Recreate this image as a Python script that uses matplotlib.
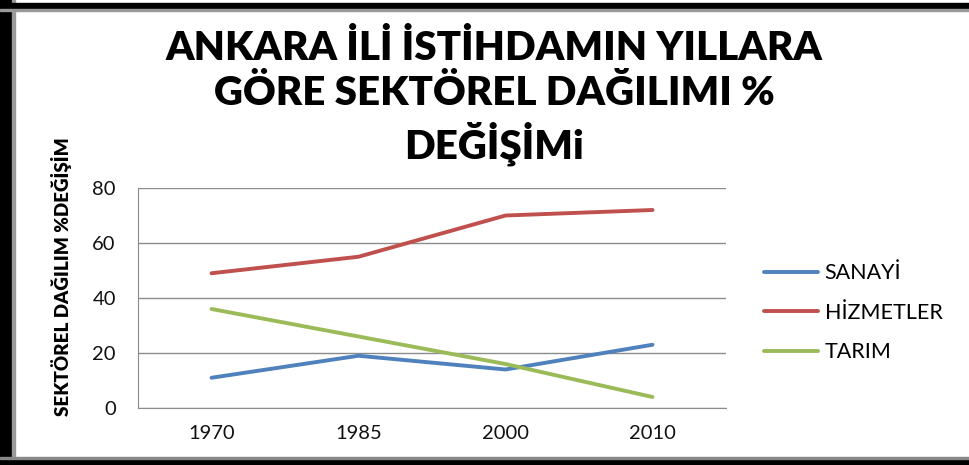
import matplotlib
matplotlib.use("Agg")
import matplotlib.pyplot as plt
from matplotlib.patches import Rectangle

years = ["1970", "1985", "2000", "2010"]
sanayi = [11, 19, 14, 23]
hizmetler = [49, 55, 70, 72]
tarim = [36, 26, 16, 4]
series_names = ["SANAYİ", "HİZMETLER", "TARIM"]
yticks = [0, 20, 40, 60, 80]

plt.rcParams['font.family'] = ['Lato', 'DejaVu Sans']

fig = plt.figure(figsize=(9.69, 4.65), dpi=100)
ax = fig.add_axes([138/969, 57/465, 588/969, 220/465])

x = range(len(years))
colors = ["#4F81BD", "#C0504D", "#9BBB59"]
for vals, name, c in zip([sanayi, hizmetler, tarim], series_names, colors):
    ax.plot(x, vals, color=c, lw=2.8, label=name, solid_capstyle='round')

ax.set_xlim(-0.5, len(years) - 0.5)
ax.set_ylim(0, 80)
ax.set_yticks(yticks)
ax.set_xticks(list(x))
ax.set_xticklabels(years)
ax.yaxis.grid(True, color="#8c8c8c", lw=1)
ax.set_axisbelow(True)
for s in ["top", "right"]:
    ax.spines[s].set_visible(False)
for s in ["left", "bottom"]:
    ax.spines[s].set_color("#8c8c8c")
ax.tick_params(axis='both', length=0, labelsize=14.5, colors="#111111")
ax.tick_params(axis='y', pad=16)
ax.tick_params(axis='x', pad=12)

fig.text(62/969, 1 - 277/465, "SEKTÖREL DAĞILIM %DEĞİŞİM", rotation=90,
         ha='center', va='center', fontsize=13.5, fontweight='heavy')

fig.text(494/969, 1 - 98/465, "ANKARA İLİ İSTİHDAMIN YILLARA\nGÖRE SEKTÖREL DAĞILIMI %\nDEĞİŞİMi",
         ha='center', va='center', fontsize=29, fontweight='heavy', linespacing=1.27)

fig.legend(loc='upper left', bbox_to_anchor=(745/969, 1 - 244/465), frameon=False,
           fontsize=15.5, handlelength=2.5, handletextpad=0.3, labelspacing=0.9)

# frame border
fig.patches.append(Rectangle((0, 0), 12/969, 1, transform=fig.transFigure, color='black', zorder=0))
fig.patches.append(Rectangle((12/969, 0), 3/969, 1, transform=fig.transFigure, color='#999999', zorder=0))
fig.patches.append(Rectangle((0, 1 - 9/465), 1, 6/465, transform=fig.transFigure, color='black', zorder=0))
fig.patches.append(Rectangle((0, 1 - 11/465), 1, 2/465, transform=fig.transFigure, color='#999999', zorder=0))
fig.patches.append(Rectangle((0, 0), 1, 6/465, transform=fig.transFigure, color='black', zorder=0))
fig.patches.append(Rectangle((0, 6/465), 1, 2/465, transform=fig.transFigure, color='#888888', zorder=0))

fig.savefig("out.png", dpi=100)
